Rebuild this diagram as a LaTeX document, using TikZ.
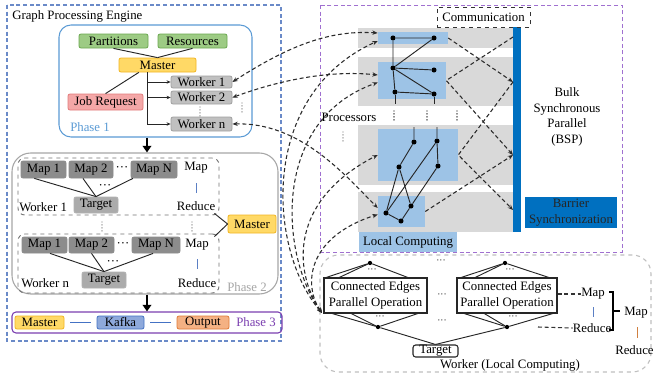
\documentclass[tikz,border=0pt]{standalone}
\usepackage{fontspec}
\setmainfont{Liberation Serif}
\usetikzlibrary{arrows.meta,fit,calc}
\definecolor{lblue}{HTML}{6A8AC8}
\definecolor{bspP}{HTML}{A070D0}
\definecolor{ph1b}{HTML}{5B9BD5}
\definecolor{grnF}{HTML}{9DCB84}
\definecolor{grnD}{HTML}{6AA84F}
\definecolor{yelF}{HTML}{FFD966}
\definecolor{yelD}{HTML}{F1B522}
\definecolor{pinkF}{HTML}{F4A7A7}
\definecolor{pinkD}{HTML}{E27A7A}
\definecolor{wkF}{HTML}{C0C0C0}
\definecolor{wkD}{HTML}{A0A0A0}
\definecolor{mapF}{HTML}{8C8C8C}
\definecolor{tgF}{HTML}{ABABAB}
\definecolor{ph2g}{HTML}{A6A6A6}
\definecolor{ph3p}{HTML}{7B3FB0}
\definecolor{kafF}{HTML}{8EA9DB}
\definecolor{kafD}{HTML}{4472C4}
\definecolor{outF}{HTML}{F4B183}
\definecolor{outD}{HTML}{E07B39}
\definecolor{rowG}{HTML}{D9D9D9}
\definecolor{locB}{HTML}{9DC3E6}
\definecolor{barB}{HTML}{0070C0}
\definecolor{lwG}{HTML}{BFBFBF}
\definecolor{dk}{HTML}{2B2B2B}
\definecolor{mrB}{HTML}{5B7FC4}
\definecolor{mrO}{HTML}{D08040}
\begin{document}
\begin{tikzpicture}[x=0.75pt,y=-0.75pt,
  font=\fontsize{9.6}{11.6}\selectfont,
  bx/.style={draw, rounded corners=1.5pt, inner sep=0pt, line width=0.6pt},
  txt/.style={inner sep=0pt},
  lab/.style={label={[txt,align=center]center:#1}},
  link/.style={line width=0.7pt, black!85},
  warr/.style={link, -{Stealth[length=3pt,width=2.6pt]}},
  ldash/.style={dk, line width=0.8pt, dash pattern=on 3pt off 2pt},
  lcurve/.style={ldash, {Stealth[length=4pt,width=3.2pt]}-{Stealth[length=4pt,width=3.2pt]}},
  inarr/.style={ldash, -{Stealth[length=4pt,width=3.2pt]}},
  bigarr/.style={line width=2.2pt, -{Triangle[length=5pt,width=6.5pt]}},
  vdot/.style={line width=1.1pt, line cap=round, dash pattern=on 0pt off 2.2pt},
  vtx/.style={circle, fill=black, inner sep=0pt, minimum size=3.8pt},
  sdot/.style={circle, fill=black, inner sep=0pt, minimum size=3.2pt},
  area/.style={inner sep=0pt, draw=none},
  smalld/.style={txt, font=\fontsize{7}{8}\selectfont}
]
\useasboundingbox (0,0) rectangle (654,375);
\fill[white] (0,0) rectangle (654,375);

% ================= LEFT: Graph Processing Engine =================
\draw[lblue, line width=0.8pt, dash pattern=on 3pt off 2pt] (7,5) rectangle (281,341);
\node[txt, anchor=west] (title) at (12,16) {Graph Processing Engine};
\coordinate (vx) at (147,0);

% Phase 1
\node[draw=ph1b, line width=0.8pt, rounded corners=9pt, inner sep=0pt, fit={(59,25) (252,137)}] (ph1) {};
\node[bx, fill=grnF, draw=grnD, fit={(79,34) (148,48)}, lab=Partitions] (part) {};
\node[bx, fill=grnF, draw=grnD, fit={(158,34) (227,48)}, lab=Resources] (res) {};
\node[bx, fill=yelF, draw=yelD, fit={(119,58) (196,72)}, lab=Master] (mst1) {};
\node[bx, fill=pinkF, draw=pinkD, fit={(68,94) (143,110)}, lab={Job Request}] (jobr) {};
\node[bx, fill=wkF, draw=wkD, fit={(171,76) (232,88)}, lab={Worker 1}] (w1) {};
\node[bx, fill=wkF, draw=wkD, fit={(171,91) (232,104)}, lab={Worker 2}] (w2) {};
\node[bx, fill=wkF, draw=wkD, fit={(171,117) (232,131)}, lab={Worker n}] (wn) {};
\node[txt, anchor=west, text=ph1b] (ph1lab) at (70,127) {Phase 1};
\draw[link] (part.south) -- (mst1.north);
\draw[link] (res.south) -- (mst1.north);
\draw[link] ($(mst1.south west)!0.26!(mst1.south east)$) -- (jobr.north);
\draw[link] (mst1.south -| vx) -- (wn.west -| vx);
\draw[warr] (w1.west -| vx) -- (w1.west);
\draw[warr] (w2.west -| vx) -- (w2.west);
\draw[warr] (wn.west -| vx) -- (wn.west);
\draw[vdot, gray] (200,107) -- (200,116);
\draw[vdot, gray] (242,103) -- (242,112);

% Phase 2
\node[draw=ph2g, line width=0.8pt, rounded corners=14pt, inner sep=0pt, fit={(12,153) (278,294)}] (ph2) {};
\draw[bigarr] (ph1.south -| vx) -- (ph2.north -| vx);
\node[draw=black!55, dashed, line width=0.7pt, rounded corners=5pt, inner sep=0pt, fit={(18,158) (219,215)}] (wk1) {};
\node[draw=black!55, dashed, line width=0.7pt, rounded corners=5pt, inner sep=0pt, fit={(18,234) (219,293)}] (wkn) {};
\node[bx, fill=mapF, draw=black!45, fit={(21,161) (66,178)}, lab={Map 1}] (m11) {};
\node[bx, fill=mapF, draw=black!45, fit={(69,161) (113,178)}, lab={Map 2}] (m12) {};
\node[bx, fill=mapF, draw=black!45, fit={(131,161) (177,178)}, lab={Map N}] (m1N) {};
\node[txt] at (122,169) {···};
\node[bx, fill=tgF, draw=black!30, fit={(74,197) (118,213)}, lab=Target] (tg1) {};
\node[txt, anchor=west] (wl1) at (19,207) {Worker 1};
\node[txt] (mp1) at (196,168) {Map};
\draw[mrB, line width=0.7pt] (196,183) -- (196,193);
\node[txt] (rd1) at (196,206) {Reduce};
\draw[link] ($(m11.south west)!0.3!(m11.south east)$) -- (tg1.north);
\draw[link] ($(m12.south west)!0.32!(m12.south east)$) -- (tg1.north);
\draw[link] ($(m1N.south west)!0.05!(m1N.south east)$) -- (tg1.north);
\node[txt] at (105,187) {···};

\node[bx, fill=mapF, draw=black!45, fit={(22,237) (67,253)}, lab={Map 1}] (mn1) {};
\node[bx, fill=mapF, draw=black!45, fit={(69,237) (114,253)}, lab={Map 2}] (mn2) {};
\node[bx, fill=mapF, draw=black!45, fit={(132,237) (180,253)}, lab={Map N}] (mnN) {};
\node[txt] at (123,245) {···};
\node[bx, fill=tgF, draw=black!30, fit={(82,272) (126,288)}, lab=Target] (tgn) {};
\node[txt, anchor=west] (wln) at (21,283) {Worker n};
\node[txt] (mpn) at (197,245) {Map};
\draw[mrB, line width=0.7pt] (197,259) -- (197,269);
\node[txt] (rdn) at (197,283) {Reduce};
\draw[link] ($(mn1.south west)!0.62!(mn1.south east)$) -- (tgn.north);
\draw[link] ($(mn2.south west)!0.5!(mn2.south east)$) -- (tgn.north);
\draw[link] ($(mnN.south west)!0.44!(mnN.south east)$) -- (tgn.north);
\node[txt] at (113,263) {···};
\draw[vdot, gray] (102,222) -- (102,232);
\draw[vdot, gray] (192,222) -- (192,232);

\node[bx, fill=yelF, draw=yelD, fit={(228,215) (276,233)}, lab=Master] (mst2) {};
\draw[link] ($(wk1.south east)+(-5,-2)$) -- (mst2.west);
\draw[link] ($(wkn.north east)+(-5,3)$) -- (mst2.west);
\node[txt, text=ph2g] (ph2lab) at (247,287) {Phase 2};

% Phase 3
\node[draw=ph3p, line width=0.8pt, rounded corners=3pt, inner sep=0pt, fit={(12,312) (282,333)}] (ph3) {};
\draw[bigarr] (ph2.south -| vx) -- (ph3.north -| vx);
\node[bx, fill=yelF, draw=yelD, fit={(15,316) (64,329)}, lab=Master] (m3) {};
\node[bx, fill=kafF, draw=kafD, fit={(97,316) (144,329)}, lab=Kafka] (kaf) {};
\node[bx, fill=outF, draw=outD, fit={(177,316) (229,329)}, lab=Output] (outp) {};
\node[txt, text=ph3p] (ph3lab) at (256,322.5) {Phase 3};
\draw[kafD, line width=0.8pt] ($(m3.east)+(6,0)$) -- ($(kaf.west)+(-6,0)$);
\draw[kafD, line width=0.8pt] ($(kaf.east)+(6,0)$) -- ($(outp.west)+(-6,0)$);

% ================= RIGHT: BSP =================
\draw[bspP, line width=0.7pt, dash pattern=on 3pt off 2pt] (320,5) rectangle (622,252);
\fill[rowG] (358,28) rectangle (513,48);
\fill[rowG] (358,57) rectangle (513,106);
\fill[rowG] (358,125) rectangle (513,185);
\fill[rowG] (358,192) rectangle (513,232);
\node[area, fill=locB, fit={(378,32) (448,44)}] (lb1) {};
\node[area, fill=locB, fit={(378,62) (446,99)}] (lb2) {};
\node[area, fill=locB, fit={(378,129) (458,181)}] (lb3) {};
\node[area, fill=locB, fit={(378,196) (425,227)}] (lb4) {};
\node[area, fill=barB, fit={(513,27) (521,232)}] (bar) {};
\node[area, fill=locB, fit={(359,232) (457,252)}, lab={Local Computing}] (lcl) {};
\node[area, fill=barB, fit={(525,197) (617,228)}, label={[txt,align=center,text=black!85]center:Barrier\\Synchronization}] (barrier) {};
\node[txt, align=center] (bsptxt) at (567,117) {Bulk\\Synchronous\\Parallel\\(BSP)};
\node[txt] (proc) at (349,117) {Processors};
\draw[vdot, gray] (343,132) -- (343,141);
\draw[vdot] (394,111) -- (394,121);
\draw[vdot] (427,111) -- (427,121);
\draw[vdot] (457,111) -- (457,121);

% communication arrows
\coordinate (bA) at (513,37);
\coordinate (bB) at (513,82);
\coordinate (bC) at (513,155);
\coordinate (bD) at (513,210);
\draw[inarr] (lb1.east) -- (bB);
\draw[inarr] (bA) -- (lb2.east) -- (bC);
\draw[inarr] (bB) -- (lb3.east) -- (bD);
\draw[inarr] (lb4.east) -- (bC);

% graph
\node[vtx] (ga) at (393,38) {};
\node[vtx] (gb) at (434,38) {};
\node[vtx] (gc) at (393,68) {};
\node[vtx] (gd) at (434,70) {};
\node[vtx] (ge) at (395,92) {};
\node[vtx] (gf) at (434,94) {};
\coordinate (ge2) at (395,104);
\coordinate (gf2) at (434,104);
\node[vtx] (gg) at (414,142) {};
\node[vtx] (gh) at (437,141) {};
\node[vtx] (gi) at (399,167) {};
\node[vtx] (gj) at (438,166) {};
\node[vtx] (gk) at (411,206) {};
\node[vtx] (gl) at (386,213) {};
\node[vtx] (gm) at (401,221) {};
\coordinate (gg2) at (414,127);
\coordinate (gh2) at (437,127);
\draw[link] (ga) -- (gb) -- (gc) -- (ga);
\draw[link] (gc) -- (gd);
\draw[link] (gc) -- (ge) -- (gf) -- (gc);
\draw[link] (ge) -- (ge2);
\draw[link] (gf) -- (gf2);
\draw[link] (gg2) -- (gg) -- (gi) -- (gl) -- (gm) -- (gk) -- (gi);
\draw[link] (gh2) -- (gh) -- (gj) -- (gk);
\draw[link] (gh) -- (gl);

\node[draw=black!80, dashed, line width=0.7pt, fill=white, inner sep=0pt, fit={(437,7) (530,27)}, lab=Communication] (comm) {};

% ================= Lower worker (local computing) =================
\node[draw=lwG, dashed, line width=0.8pt, rounded corners=14pt, inner sep=0pt, fit={(320,255) (651,372)}] (lw) {};
\node[draw=black!85, line width=0.9pt, fill=white, inner sep=0pt, fit={(324,278) (427,313)}, lab={Connected Edges\\Parallel Operation}] (ce1) {};
\node[draw=black!85, line width=0.9pt, fill=white, inner sep=0pt, fit={(457,278) (557,313)}, lab={Connected Edges\\Parallel Operation}] (ce2) {};
\node[sdot] (td1) at (370,263) {};
\node[sdot] (bd1) at (378,327) {};
\node[sdot] (td2) at (505,263) {};
\node[sdot] (bd2) at (507,327) {};
\draw[link] (td1) -- ($(ce1.north west)+(3,0)$);
\draw[link] (td1) -- ($(ce1.north west)+(16,0)$);
\draw[link] (td1) -- ($(ce1.north east)+(-20,0)$);
\draw[link] (bd1) -- ($(ce1.south west)+(9,0)$);
\draw[link] (bd1) -- ($(ce1.south west)+(28,0)$);
\draw[link] (bd1) -- ($(ce1.south east)+(-10,0)$);
\draw[link] (td2) -- ($(ce2.north west)+(5,0)$);
\draw[link] (td2) -- ($(ce2.north west)+(19,0)$);
\draw[link] (td2) -- ($(ce2.north east)+(-9,0)$);
\draw[link] (bd2) -- ($(ce2.south west)+(8,0)$);
\draw[link] (bd2) -- ($(ce2.south west)+(28,0)$);
\draw[link] (bd2) -- ($(ce2.south east)+(-5,0)$);
\node[smalld] at (372,271) {···};
\node[smalld] at (380,318) {···};
\node[smalld] at (510,271) {···};
\node[smalld] at (513,318) {···};
\node[smalld] at (441,262) {···};
\node[smalld] at (442,296) {···};
\node[smalld] at (442,322) {···};
\node[draw=black!85, line width=0.8pt, rounded corners=2pt, fill=white, inner sep=0pt, fit={(413,345) (458,357)}, lab=Target] (tgt) {};
\draw[link] (bd1) -- (tgt.north);
\draw[link] (bd2) -- (tgt.north);
\node[txt] (lwlab) at (510,365) {Worker (Local Computing)};

\node[txt] (mpr) at (593,294) {Map};
\draw[ldash, black!80] (ce2.east |- mpr) -- (mpr.west);
\draw[mrB, line width=0.7pt] (593,307) -- (593,317);
\node[txt] (rdr) at (592,328) {Reduce};
\coordinate (rdst) at (538,327);
\draw[ldash, black!80] (rdst) -- (rdr.west);
\draw[line width=0.8pt] (609,292) -- (613,292) -- (613,330) -- (609,330);
\draw[line width=0.8pt] (613,311) -- (620,311);
\node[txt] (mpr2) at (636,313) {Map};
\draw[mrO, line width=0.7pt] (637,327) -- (637,338);
\node[txt, anchor=west] (rdr2) at (615,350) {Reduce};

% ================= long dashed curves =================
\coordinate (ceL) at (322,313);
\draw[lcurve] (ceL) .. controls (268,250) and (258,95) .. ($(lb1.west)+(0,3)$);
\draw[lcurve] (ceL) .. controls (280,255) and (271,120) .. ($(lb2.west)+(0,2)$);
\draw[lcurve] (ceL) .. controls (293,270) and (290,200) .. (lb3.west);
\draw[lcurve] (ceL) .. controls (303,285) and (307,237) .. ($(lb4.west)+(0,3)$);
\draw[lcurve] (w1.east) .. controls (290,45) and (330,30) .. ($(lb1.west)+(0,-5)$);
\draw[lcurve] (w2.east) .. controls (280,80) and (330,70) .. ($(lb2.west)+(0,-5.5)$);
\draw[lcurve] (wn.east) .. controls (300,122) and (345,175) .. ($(lb4.west)+(0,-3.5)$);
\end{tikzpicture}
\end{document}
